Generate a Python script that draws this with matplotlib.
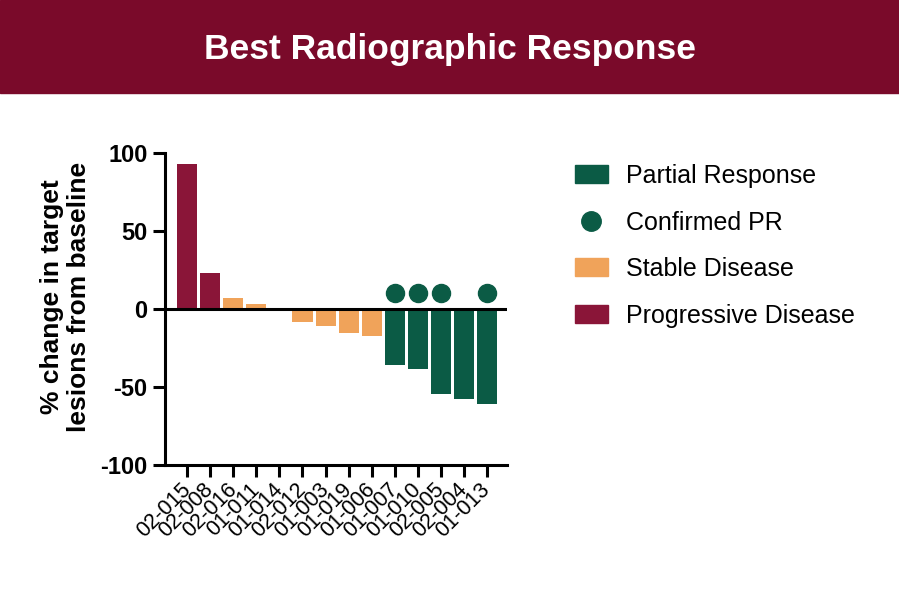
import numpy as np
import matplotlib
matplotlib.use('Agg')
import matplotlib.pyplot as plt
from matplotlib.patches import Patch, Rectangle
from matplotlib.lines import Line2D

plt.rcParams['font.family'] = ['Liberation Sans', 'DejaVu Sans']
plt.rcParams['axes.unicode_minus'] = False

# data
patients = ['02-015', '02-008', '02-016', '01-011', '01-014', '02-012', '01-003',
            '01-019', '01-006', '01-007', '01-010', '02-005', '02-004', '01-013']
change = [93, 23, 7.3, 3, 0, -8.6, -10.7, -15.7, -17.6, -35.8, -38.6, -54.7, -57.7, -60.7]
response = ['PD', 'PD', 'SD', 'SD', 'SD', 'SD', 'SD', 'SD', 'SD', 'PR', 'PR', 'PR', 'PR', 'PR']
confirmed = ['01-007', '01-010', '02-005', '01-013']
confirmed_y = 10

green = '#0B5B45'
orange = '#F0A35A'
maroon = '#8A1538'
header = '#7A0A2A'
colors = {'PR': green, 'SD': orange, 'PD': maroon}

W, H = 899, 608
fig = plt.figure(figsize=(W / 100, H / 100), dpi=100)

# header band
fig.patches.append(Rectangle((0, 1 - 93 / H), 1, 93 / H, transform=fig.transFigure,
                             color=header, zorder=0))
fig.text(0.5, 1 - 59 / H, 'Best Radiographic Response', color='white',
         fontsize=25.5, fontweight='bold', ha='center', va='baseline')

ax = fig.add_axes([165 / W, (H - 465) / H, (507 - 165) / W, (465 - 153) / H])
x = np.arange(len(patients))
ax.bar(x, change, width=0.87, color=[colors[r] for r in response], zorder=2)
cx = [patients.index(p) for p in confirmed]
ax.plot(cx, [confirmed_y] * len(cx), 'o', color=green, markersize=13, zorder=3)
ax.axhline(0, color='black', lw=2.2, zorder=4)

ax.set_xlim(-0.97, 13.88)
ax.set_ylim(-100, 100)
ax.set_yticks([-100, -50, 0, 50, 100])
ax.set_xticks(x)
ax.set_xticklabels(patients, rotation=45, ha='right', va='center',
                   rotation_mode='anchor', fontsize=15.5)
for lab in ax.get_yticklabels():
    lab.set_fontweight('bold')
    lab.set_fontsize(17)
ax.tick_params(axis='both', width=2.2, length=8.5, direction='out')
ax.tick_params(axis='y', pad=4)
ax.tick_params(axis='x', pad=7)
for s in ['top', 'right']:
    ax.spines[s].set_visible(False)
for s in ['left', 'bottom']:
    ax.spines[s].set_linewidth(2.2)

ax.set_ylabel('% change in target\nlesions from baseline', fontsize=19,
              fontweight='bold', linespacing=1.15)
ax.yaxis.set_label_coords(-0.216, 0.54)

handles = [Patch(color=green), Line2D([], [], marker='o', color=green, ls='none', markersize=14),
           Patch(color=orange), Patch(color=maroon)]
labels = ['Partial Response', 'Confirmed PR', 'Stable Disease', 'Progressive Disease']
fig.legend(handles, labels, loc='upper left', bbox_to_anchor=(575 / W, 1 - 164 / H),
           frameon=False, fontsize=18, handlelength=1.3, handleheight=0.75,
           labelspacing=0.9, handletextpad=0.76, borderpad=0, borderaxespad=0)

fig.savefig('out.png', dpi=100)
